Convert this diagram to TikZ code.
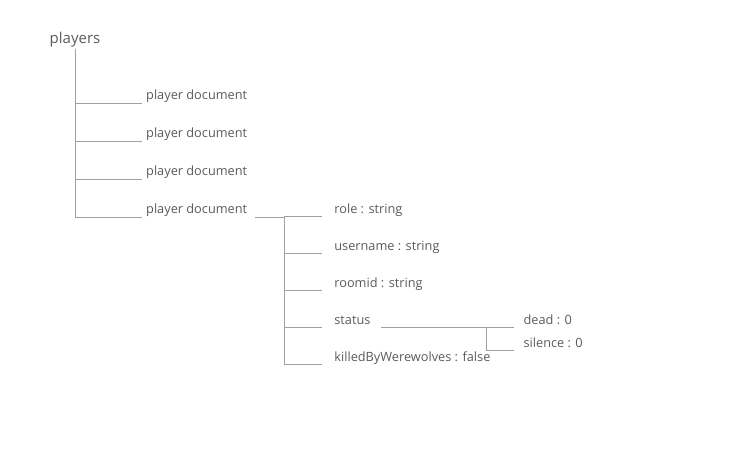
\documentclass[tikz,border=0pt]{standalone}
\usepackage{fontspec}
\setmainfont{Open Sans}
\usetikzlibrary{trees}
\definecolor{txtgray}{HTML}{5A5A5A}
\definecolor{linegray}{HTML}{A0A0A0}

\begin{document}
\begin{tikzpicture}[x=1pt, y=-1pt,
  every node/.style={text=txtgray, font=\fontsize{12.75}{15}\selectfont,
    anchor=south west, inner ysep=0pt, text height=10pt, text depth=3pt},
  edge from parent/.style={draw=linegray, line width=0.9pt},
  level 1/.style={grow via three points={one child at (67,63) and two children at (67,63) and (67,101)},
    every node/.append style={inner xsep=4pt},
    edge from parent path={(\tikzparentnode.south) |- (\tikzchildnode.south west)}},
  level 2/.style={grow via three points={one child at (125,6.5) and two children at (125,6.5) and (125,43.5)},
    every node/.append style={inner xsep=12.5pt},
    edge from parent path={([xshift=4pt]\tikzparentnode.south east) -| ([xshift=-37.5pt]\tikzchildnode.south west) -- (\tikzchildnode.south west)}},
  level 3/.style={grow via three points={one child at (162,6.5) and two children at (162,6.5) and (162,29.5)},
    every node/.append style={inner xsep=9pt},
    edge from parent path={([xshift=-2pt]\tikzparentnode.south east) -| ([xshift=-28pt]\tikzchildnode.south west) -- (\tikzchildnode.south west)}}]
  \useasboundingbox (0,0) rectangle (730,466);
  \node[anchor=base, inner sep=2pt, font=\fontsize{15}{18}\selectfont] (players) at (75,43.5) {players}
    child { node (pd1) {player document} }
    child { node (pd2) {player document} }
    child { node (pd3) {player document} }
    child { node (pd4) {player document}
      child { node (role) {role : string} }
      child { node (username) {username : string} }
      child { node (roomid) {roomid : string} }
      child { node (status) {status}
        child { node (dead) {dead : 0} }
        child { node (silence) {silence : 0} }
      }
      child { node (killed) {killedByWerewolves : false} }
    };
\end{tikzpicture}
\end{document}
